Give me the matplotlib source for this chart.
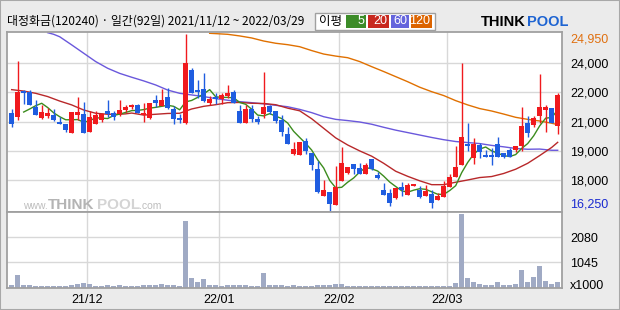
import matplotlib
matplotlib.use('Agg')
import matplotlib.pyplot as plt
from matplotlib.patches import Rectangle
from matplotlib.transforms import blended_transform_factory

# ---------------- data ----------------
opens = [21050, 20870, 22150, 22090, 21330, 20810, 20910, 20970, 20610, 20510,
         20090, 20970, 21000, 20140, 20500, 20690, 21170, 21050, 21000, 21220,
         21350, 21460, 20960, 20820, 21690, 21410, 21840, 21270, 20820, 20580,
         23150, 22180, 22230, 21560, 21820, 21720, 21910, 22090, 21150, 20580,
         21250, 20760, 21020, 21400, 21150, 20710, 20020, 19040, 19010, 19660,
         19070, 18290, 16990, 17150, 16550, 17730, 18120, 18530, 18350, 18060,
         18780, 18010, 17270, 17110, 16860, 17420, 17040, 17480, 17270, 16990,
         17070, 16800, 16940, 17430, 17890, 18510, 19530, 18830, 19480, 18990,
         18990, 19510, 19070, 19240, 19240, 19430, 20550, 20460, 20910, 21220,
         21280, 20430]
highs = [21250, 23610, 22180, 22180, 21690, 21430, 21280, 21230, 20840, 20510,
         21100, 21860, 21610, 21140, 21150, 21050, 21690, 21170, 21690, 21450,
         21500, 21510, 21560, 21540, 21920, 22230, 22270, 21400, 21020, 24950,
         23280, 22680, 23000, 21890, 22020, 22050, 22430, 22180, 21450, 21450,
         21450, 20890, 23070, 21460, 21150, 20960, 20350, 19610, 19630, 19830,
         19070, 18700, 17760, 17150, 18450, 19370, 18400, 18530, 18580, 18610,
         18810, 18170, 17630, 17340, 17370, 17680, 17600, 17560, 17480, 17500,
         17270, 17110, 17710, 18060, 19430, 23490, 20550, 19840, 19560, 19240,
         19350, 19870, 19100, 19320, 19430, 21330, 20910, 20910, 22970, 21450,
         21320, 22040]
lows = [20380, 20710, 21500, 21430, 20940, 20760, 20820, 20680, 20520, 20120,
        20090, 20710, 20090, 20140, 20500, 20600, 20840, 20710, 20910, 21090,
        21230, 21040, 20600, 20780, 21350, 21410, 21270, 20500, 20550, 20500,
        22020, 21810, 21610, 21430, 21500, 21500, 21770, 21530, 20580, 20580,
        20600, 20500, 20820, 21000, 20550, 19920, 19530, 18990, 19010, 19040,
        18250, 17110, 16990, 16250, 16550, 17730, 18070, 18060, 18060, 18060,
        18250, 17830, 17040, 16500, 16840, 16990, 17040, 17440, 16860, 16990,
        16370, 16800, 16940, 17430, 17890, 18510, 19200, 18530, 18840, 18910,
        18510, 18910, 18860, 18910, 19140, 19170, 19890, 20380, 20550, 20100,
        20560, 20020]
closes = [20500, 22090, 22020, 21460, 20970, 21100, 21050, 20710, 20530, 20200,
          21100, 21100, 20090, 20840, 20960, 20990, 21000, 20840, 21220, 21360,
          21450, 21040, 21050, 21540, 21560, 21690, 21320, 20780, 20690, 23510,
          22050, 22090, 21630, 21720, 21740, 21940, 22050, 21560, 20580, 21250,
          20760, 20600, 21350, 21120, 20680, 20140, 19530, 19280, 19630, 19200,
          18500, 17150, 17270, 16580, 17420, 18580, 18400, 18300, 18060, 18500,
          18300, 17860, 17040, 16610, 17370, 17250, 17530, 17550, 16940, 17220,
          16650, 16960, 17470, 17910, 18420, 19860, 19450, 19530, 19150, 18910,
          18910, 18910, 18910, 18910, 19430, 20400, 20090, 20810, 21350, 21350,
          20560, 21940]
volumes = [110, 520, 110, 110, 70, 70, 70, 70, 70, 70,
           110, 140, 190, 150, 70, 70, 110, 70, 110, 70,
           70, 70, 110, 110, 110, 150, 110, 110, 70, 2740,
           385, 235, 360, 110, 110, 70, 110, 110, 110, 110,
           70, 70, 590, 110, 110, 110, 55, 110, 55, 55,
           55, 110, 110, 110, 150, 150, 55, 55, 55, 55,
           55, 55, 55, 55, 55, 55, 55, 55, 55, 55,
           55, 55, 55, 55, 190, 3040, 400, 235, 150, 110,
           110, 235, 110, 110, 150, 730, 235, 440, 895, 275,
           150, 235]

ma5_idx = [2, 3] + list(range(4, 92))
ma5_val = [21100, 21250,
           21410, 21530, 21320, 21060, 20870, 20720, 20720, 20730, 20600, 20670,
           20820, 20800, 20780, 20930, 21000, 21080, 21170, 21180, 21220, 21290,
           21330, 21380, 21430, 21380, 21210, 21600, 21670, 21820, 21990, 22200,
           21850, 21820, 21820, 21800, 21570, 21480, 21240, 20950, 20910, 21020,
           20900, 20780, 20560, 20150, 19850, 19560, 19230, 18750, 18350, 17740,
           17380, 17400, 17650, 17860, 18150, 18370, 18310, 18200, 17950, 17660,
           17440, 17230, 17160, 17260, 17330, 17300, 17180, 17060, 17050, 17240,
           17480, 18120, 18620, 19030, 19280, 19380, 19190, 19080, 18960, 18910,
           19010, 19310, 19550, 19930, 20420, 20800, 20830, 21200]

ma20_idx = [0, 2, 4, 6, 8, 10, 12, 14, 16, 18, 19, 20, 22, 24, 26, 28, 30, 32, 34,
            36, 38, 40, 42, 44, 46, 48, 50, 52, 54, 56, 58, 60, 62, 64, 66, 68, 70,
            72, 74, 76, 78, 80, 82, 84, 86, 88, 90, 91]
ma20_val = [22200, 22130, 22020, 21860, 21640, 21450, 21200, 21040, 20990, 20990,
            21010, 21050, 20950, 20990, 21030, 21040, 21250, 21380, 21460, 21560,
            21570, 21530, 21520, 21460, 21290, 21160, 20770, 20300, 19830, 19480,
            19190, 18930, 18580, 18190, 17940, 17720, 17530, 17530, 17650, 17760,
            17880, 17930, 18080, 18290, 18580, 18960, 19360, 19610]

ma60_idx = [6, 7, 8, 10, 12, 14, 16, 18, 20, 22, 24, 26, 28, 30, 32, 34, 36, 38, 40,
            42, 44, 46, 48, 50, 52, 54, 56, 58, 60, 62, 64, 66, 68, 70, 72, 74, 76,
            78, 80, 82, 84, 86, 88, 90, 91]
ma60_val = [25000, 24920, 24800, 24400, 23990, 23580, 23250, 23000, 22810, 22630,
            22430, 22180, 22020, 21940, 21860, 21760, 21680, 21610, 21560, 21500,
            21430, 21360, 21230, 21070, 20870, 20740, 20680, 20610, 20500, 20350,
            20210, 20090, 19970, 19850, 19740, 19650, 19600, 19550, 19460, 19390,
            19310, 19270, 19280, 19220, 19220]

ma120_idx = [33, 36, 38, 40, 42, 44, 46, 48, 50, 52, 54, 56, 58, 60, 62, 64, 66, 68,
             70, 72, 74, 76, 78, 80, 82, 84, 86, 88, 90, 91]
ma120_val = [24970, 24920, 24840, 24740, 24590, 24480, 24410, 24310, 24120, 23950,
             23850, 23770, 23580, 23330, 23090, 22840, 22590, 22320, 22100, 21910,
             21660, 21450, 21270, 21150, 21000, 20840, 20740, 20660, 20550, 20480]

month_start_idx = [13, 35, 55, 73]
month_labels = ['21/12', '22/01', '22/02', '22/03']
price_tick_values = [23495, 22070, 20625, 19200, 17760]
price_tick_labels = ['24,000', '22,000', '21,000', '19,000', '18,000']
vol_tick_values = [1045, 2080]
vol_tick_labels = ['1045', '2080']

title = '대정화금(120240) · 일간(92일) 2021/11/12 ~ 2022/03/29'
ma_periods = ['5', '20', '60', '120']

# ---------------- style ----------------
RED = '#f01a1e'
BLUE = '#1f5de0'
MA_COLORS = ['#3c8c1e', '#b8282a', '#6a58dc', '#e07000']
BOX_COLORS = ['#3c8c28', '#c8281e', '#6464dc', '#dc6400']
GRID = '#d8d8d8'
SPINE = '#a0a0a0'
VOLC = '#a0aac4'
KFONT = ['Noto Sans CJK KR', 'DejaVu Sans']
NFONT = 'Liberation Sans'

W, H = 620, 310
fig = plt.figure(figsize=(6.2, 3.1), dpi=100)
fig.patch.set_facecolor('#ebebeb')

def fx(px):
    return px / W

def fy(py):
    return 1 - py / H

L, R, T, M, B = 7.3, 562.0, 31.7, 212.3, 288.0
ax = fig.add_axes([fx(L), fy(M), fx(R - L), (M - T) / H])
axv = fig.add_axes([fx(L), fy(B), fx(R - L), (B - M) / H])

n = len(closes)
xs = list(range(n))
xlim = (-0.73, n - 0.28)

# price panel
ax.set_facecolor('white')
ax.set_xlim(*xlim)
ax.set_ylim(16172, 25048)
for m in month_start_idx:
    ax.axvline(m - 0.5, color=GRID, lw=1.0, zorder=0)
    axv.axvline(m - 0.5, color=GRID, lw=1.0, zorder=0)
for v in price_tick_values:
    ax.axhline(v, color=GRID, lw=1.0, zorder=0)

# watermark
wm_kw = dict(transform=fig.transFigure, va='baseline', zorder=0.5)
ax.text(fx(23), fy(209), 'www.', fontsize=7.5, color='#bdbdbd', family=NFONT, **wm_kw)
ax.text(fx(48), fy(209), 'THINK', fontsize=11, color='#b4b4b4', family=NFONT, fontweight='bold', **wm_kw)
ax.text(fx(97), fy(209), 'POOL', fontsize=11, color='#d4d4d4', family=NFONT, fontweight='bold', **wm_kw)
ax.text(fx(139), fy(209), '.com', fontsize=7.5, color='#bdbdbd', family=NFONT, **wm_kw)

# moving averages (behind candles)
for idx, val, col in [(ma120_idx, ma120_val, MA_COLORS[3]), (ma60_idx, ma60_val, MA_COLORS[2]),
                      (ma20_idx, ma20_val, MA_COLORS[1]), (ma5_idx, ma5_val, MA_COLORS[0])]:
    ax.plot(idx, val, color=col, lw=1.0, zorder=2, solid_joinstyle='round')

# candles
for i in xs:
    o, h, l, c = opens[i], highs[i], lows[i], closes[i]
    col = RED if c >= o else BLUE
    ax.vlines(i, l, h, color=col, lw=1.0, zorder=3)
    bot = min(o, c)
    hgt = max(abs(c - o), 45)
    ax.bar(i, hgt, bottom=bot, width=0.75, color=col, linewidth=0, zorder=4)

ax.yaxis.tick_right()
ax.set_yticks(price_tick_values)
ax.set_yticklabels(price_tick_labels)
ax.tick_params(axis='y', length=0, pad=6, labelsize=9, labelcolor='black')
ax.set_xticks([])
for lab in ax.get_yticklabels():
    lab.set_family(NFONT)
for s in ax.spines.values():
    s.set_color(SPINE)
    s.set_linewidth(1.3)

trans = blended_transform_factory(ax.transAxes, ax.transData)
xlab = 1 + 8 / (R - L)
ax.text(xlab, max(highs), '{:,}'.format(max(highs)), transform=trans, ha='left', va='top',
        fontsize=9, color='#e07010', family=NFONT, clip_on=False)
ax.text(xlab, min(lows), '{:,}'.format(min(lows)), transform=trans, ha='left', va='bottom',
        fontsize=9, color='#1a2ad0', family=NFONT, clip_on=False)

# volume panel
axv.set_facecolor('white')
axv.set_xlim(*xlim)
axv.set_ylim(-20, 3106)
for v in vol_tick_values:
    axv.axhline(v, color=GRID, lw=1.0, zorder=0)
axv.bar(xs, volumes, width=0.82, color=VOLC, linewidth=0, zorder=2)
axv.yaxis.tick_right()
axv.set_yticks(vol_tick_values)
axv.set_yticklabels(vol_tick_labels)
axv.tick_params(axis='y', length=0, pad=6, labelsize=9)
axv.set_xticks([m - 0.5 for m in month_start_idx])
axv.set_xticklabels(month_labels)
axv.tick_params(axis='x', length=0, pad=4, labelsize=9)
for lab in axv.get_yticklabels() + axv.get_xticklabels():
    lab.set_family(NFONT)
for s in axv.spines.values():
    s.set_color(SPINE)
    s.set_linewidth(1.3)
axv.text(xlab, 0.03, 'x1000', transform=axv.transAxes, ha='left', va='center',
         fontsize=9, family=NFONT)

# title and legend box
fig.text(fx(7), fy(21.5), title, fontsize=8.6, family=KFONT, va='center', ha='left')
fig.patches.append(Rectangle((fx(315), fy(30)), fx(120), 17.3 / H, transform=fig.transFigure,
                             facecolor='white', edgecolor=SPINE, lw=1.0))
fig.text(fx(319), fy(21.5), '이평', fontsize=9, family=KFONT, va='center', ha='left')
box_x = [(346, 366), (368, 389), (391, 409), (411, 432)]
for (x0, x1), col, lab in zip(box_x, BOX_COLORS, ma_periods):
    fig.patches.append(Rectangle((fx(x0), fy(27.7)), fx(x1 - x0), 12.7 / H,
                                 transform=fig.transFigure, facecolor=col, edgecolor='none'))
    fig.text(fx(x1 - 1.5), fy(21.5), lab, fontsize=9, family=NFONT, color='white',
             va='center', ha='right')

# logo
fig.text(fx(481), fy(22), 'THINK', fontsize=10.5, family=NFONT, fontweight='bold',
         color='black', va='center', ha='left')
fig.text(fx(527), fy(22), 'POOL', fontsize=10.5, family=NFONT, fontweight='bold',
         color='#1e64d2', va='center', ha='left')

# outer frame
fig.patches.append(Rectangle((0, 0), 1, 1, transform=fig.transFigure, facecolor='none',
                             edgecolor='#a8a8a8', lw=1.5))

fig.savefig('out.png', dpi=100, facecolor=fig.get_facecolor())
